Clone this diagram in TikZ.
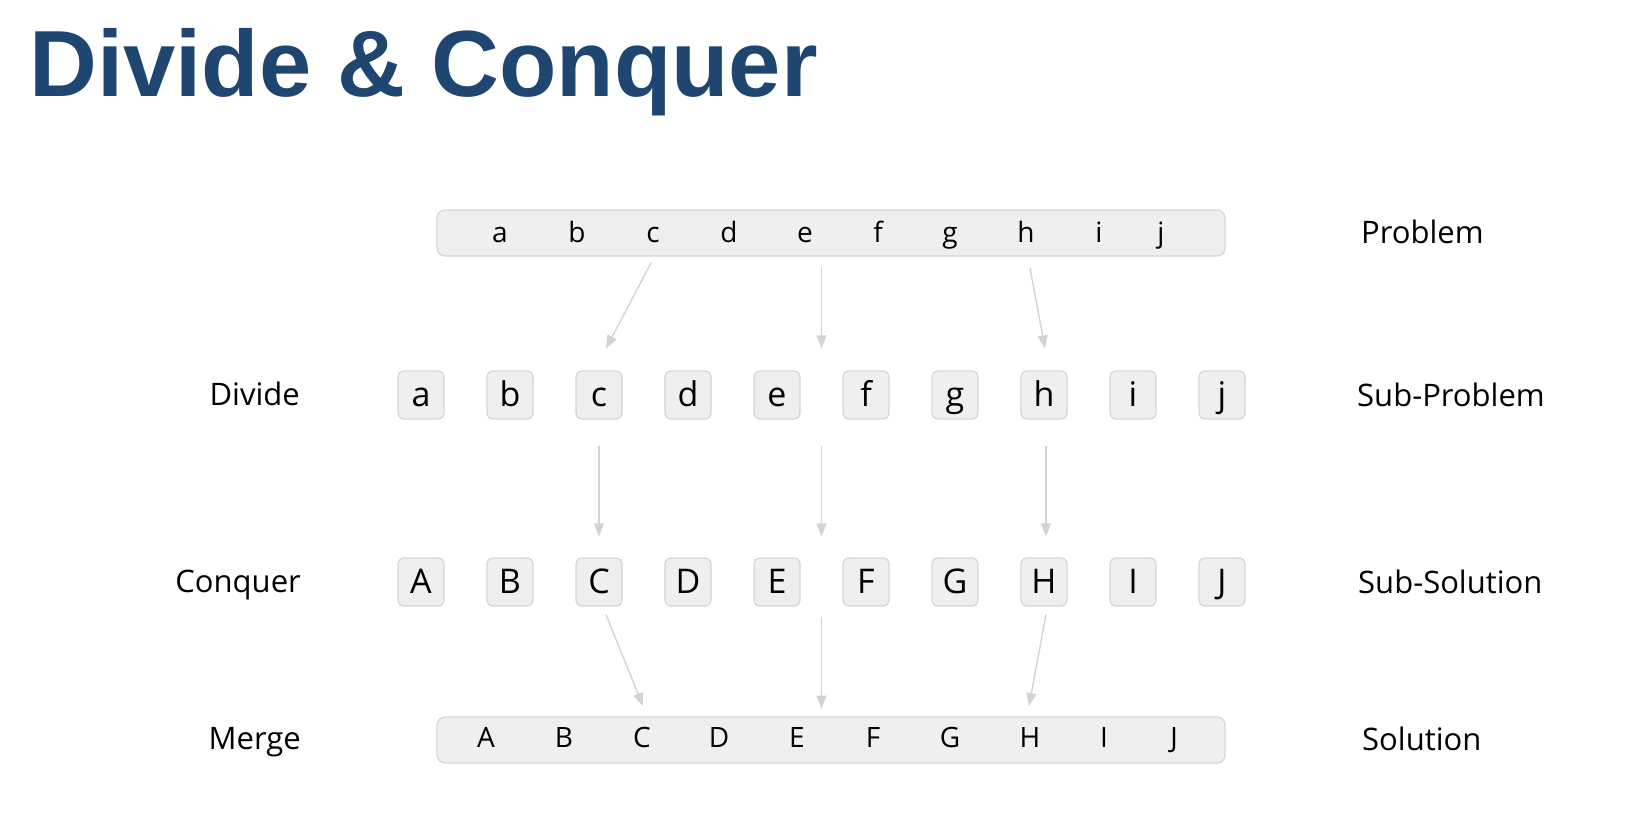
\documentclass[tikz,border=0pt]{standalone}
\usepackage{fontspec}
\setmainfont{Open Sans}
\newfontfamily\headfont{Liberation Sans}
\usetikzlibrary{arrows.meta,calc}
\definecolor{titleblue}{RGB}{31,69,113}
\definecolor{cellfill}{RGB}{239,239,239}
\definecolor{celldraw}{RGB}{213,213,213}
\definecolor{arrowgray}{RGB}{211,211,211}

\begin{document}
\begin{tikzpicture}[x=1pt, y=-1pt, node distance=89pt,
  cell/.style={draw=celldraw, fill=cellfill, line width=1.2pt, rounded corners=6pt,
    minimum width=46pt, minimum height=48pt, inner sep=0pt,
    text height=26pt, text depth=4pt, font=\fontsize{34}{34}\selectfont},
  bar/.style={draw=celldraw, fill=cellfill, line width=1.2pt, rounded corners=8pt,
    minimum width=788pt, minimum height=46pt},
  letter/.style={inner sep=0pt, text height=22pt, text depth=4pt, font=\fontsize{28}{28}\selectfont},
  rowname/.style={inner sep=0pt, font=\fontsize{31}{31}\selectfont},
  arr/.style={draw=arrowgray, line width=1.4pt, -{Triangle[length=13pt,width=10pt]}}]
\useasboundingbox (0,0) rectangle (1630,838);

\node[anchor=base west, inner sep=0pt, text=titleblue,
  font=\headfont\bfseries\fontsize{94}{94}\selectfont] (title) at (29,96) {Divide \& Conquer};

% problem
\node[bar] (prob) at (831,233) {};
\node[letter] (pa) at (500,233) {a};
\node[letter] (pb) at (577,233) {b};
\node[letter] (pc) at (653,233) {c};
\node[letter] (pd) at (729,233) {d};
\node[letter] (pe) at (805,233) {e};
\node[letter] (pf) at (878,233) {f};
\node[letter] (pg) at (950,233) {g};
\node[letter] (ph) at (1026,233) {h};
\node[letter] (pi) at (1099,233) {i};
\node[letter] (pj) at (1161,233) {j};

% divide
\node[cell]              (da) at (421,395) {a};
\node[cell, right of=da] (db) {b};
\node[cell, right of=db] (dc) {c};
\node[cell, right of=dc] (dd) {d};
\node[cell, right of=dd] (de) {e};
\node[cell, right of=de] (df) {f};
\node[cell, right of=df] (dg) {g};
\node[cell, right of=dg] (dh) {h};
\node[cell, right of=dh] (di) {i};
\node[cell, right of=di] (dj) {j};

% conquer
\node[cell]              (ca) at (421,582) {A};
\node[cell, right of=ca] (cb) {B};
\node[cell, right of=cb] (cc) {C};
\node[cell, right of=cc] (cd) {D};
\node[cell, right of=cd] (ce) {E};
\node[cell, right of=ce] (cf) {F};
\node[cell, right of=cf] (cg) {G};
\node[cell, right of=cg] (ch) {H};
\node[cell, right of=ch] (ci) {I};
\node[cell, right of=ci] (cj) {J};

% merge
\node[bar] (merge) at (831,740) {};
\node[letter] (ma) at (486,738) {A};
\node[letter] (mb) at (564,738) {B};
\node[letter] (mc) at (642,738) {C};
\node[letter] (md) at (719,738) {D};
\node[letter] (me) at (797,738) {E};
\node[letter] (mf) at (873,738) {F};
\node[letter] (mg) at (950,738) {G};
\node[letter] (mh) at (1030,738) {H};
\node[letter] (mi) at (1104,738) {I};
\node[letter] (mj) at (1174,738) {J};

% row names
\node[rowname, anchor=base west] (tprob) at (1361,243) {Problem};
\node[rowname, anchor=base west] (tsubp) at (1357,406) {Sub-Problem};
\node[rowname, anchor=base west] (tsubs) at (1358,593) {Sub-Solution};
\node[rowname, anchor=base west] (tsol)  at (1362,750) {Solution};
\node[rowname, anchor=base east] (tdiv)  at (300,405) {Divide};
\node[rowname, anchor=base east] (tcon)  at (301,592) {Conquer};
\node[rowname, anchor=base east] (tmer)  at (301,749) {Merge};

\coordinate (dmidn) at ($(de.north)!.5!(df.north)$);
\coordinate (dmids) at ($(de.south)!.5!(df.south)$);
\coordinate (cmidn) at ($(ce.north)!.5!(cf.north)$);
\coordinate (cmids) at ($(ce.south)!.5!(cf.south)$);

\draw[arr] ([shift={(-2,30)}]pc.center) -- ([shift={(7,-22)}]dc.north);
\draw[arr] ([shift={(0,-103)}]dmidn) -- ([shift={(0,-22)}]dmidn);
\draw[arr] ([shift={(4,35)}]ph.center) -- ([shift={(1,-22)}]dh.north);

\draw[arr] ([shift={(0,26)}]dc.south) -- ([shift={(0,-21)}]cc.north);
\draw[arr] ([shift={(0,26)}]dmids) -- ([shift={(0,-21)}]cmidn);
\draw[arr] ([shift={(2,26)}]dh.south) -- ([shift={(2,-21)}]ch.north);

\draw[arr] ([shift={(7,8)}]cc.south) -- ([shift={(1,-32)}]mc.center);
\draw[arr] ([shift={(0,10)}]cmids) -- ([shift={(0,102)}]cmids);
\draw[arr] ([shift={(2,8)}]ch.south) -- ([shift={(-1,-32)}]mh.center);
\end{tikzpicture}
\end{document}
